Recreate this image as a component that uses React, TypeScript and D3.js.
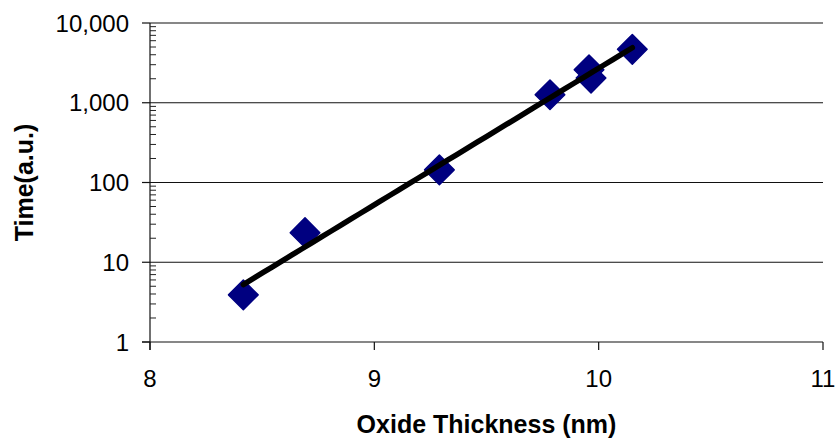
import React from "react";
import * as d3 from "d3";

// Measured samples: oxide thickness (nm) vs. time (a.u.)
const thickness = [8.416, 8.691, 9.29, 9.783, 9.957, 9.966, 10.15];
const timeValues = [3.9, 23.5, 144, 1260, 2590, 2040, 4680];

const xTicks = [8, 9, 10, 11];
const yTicks = [1, 10, 100, 1000, 10000];

const W = 840;
const H = 443;
const left = 150;
const right = 823;
const top = 23;
const bottom = 342;

const FONT = "Arial, 'Liberation Sans', Helvetica, sans-serif";

export default function App() {
  const x = d3.scaleLinear().domain([8, 11]).range([left, right]);
  const y = d3.scaleLog().domain([1, 10000]).range([bottom, top]);
  const fmt = d3.format(",");

  // Exponential trend line: least squares fit of log10(time) on thickness
  const logs = timeValues.map((v) => Math.log10(v));
  const mx = d3.mean(thickness) as number;
  const my = d3.mean(logs) as number;
  let sxy = 0;
  let sxx = 0;
  thickness.forEach((t, i) => {
    sxy += (t - mx) * (logs[i] - my);
    sxx += (t - mx) * (t - mx);
  });
  const slope = sxy / sxx;
  const intercept = my - slope * mx;
  const [x0, x1] = d3.extent(thickness) as [number, number];
  const trend = d3.range(0, 41).map((i) => {
    const t = x0 + ((x1 - x0) * i) / 40;
    return [t, Math.pow(10, intercept + slope * t)] as [number, number];
  });
  const trendPath = d3
    .line<[number, number]>()
    .x((d) => x(d[0]))
    .y((d) => y(d[1]))(trend) as string;

  // Minor ticks 2..9 within each decade
  const minor: number[] = [];
  for (let e = 0; e < 4; e++) {
    for (let m = 2; m <= 9; m++) minor.push(m * Math.pow(10, e));
  }

  const r = 14.8;
  const diamond = `M0,${-r}L${r},0L0,${r}L${-r},0Z`;

  return (
    <svg
      width={W}
      height={H}
      style={{ position: "absolute", left: 0, top: 0, background: "#fff" }}
      fontFamily={FONT}
    >
      {/* horizontal gridlines at each decade */}
      {yTicks.slice(1).map((v) => (
        <line
          key={"g" + v}
          x1={left}
          x2={right}
          y1={y(v)}
          y2={y(v)}
          stroke="#111"
          strokeWidth={1.2}
        />
      ))}
      {/* y axis */}
      <line x1={left} x2={left} y1={top} y2={bottom + 8} stroke="#111" strokeWidth={1.2} />
      {yTicks.map((v) => (
        <g key={"yt" + v}>
          <line x1={left - 8} x2={left} y1={y(v)} y2={y(v)} stroke="#111" strokeWidth={1.2} />
          <text
            x={129}
            y={y(v) + 8.5}
            textAnchor="end"
            fontSize={24}
            fill="#000"
          >
            {fmt(v)}
          </text>
        </g>
      ))}
      {minor.map((v) => (
        <line
          key={"m" + v}
          x1={left}
          x2={left + 6}
          y1={y(v)}
          y2={y(v)}
          stroke="#222"
          strokeWidth={1}
        />
      ))}
      {/* x axis */}
      <line x1={left - 8} x2={right} y1={bottom} y2={bottom} stroke="#111" strokeWidth={1.2} />
      {xTicks.map((v) => (
        <g key={"xt" + v}>
          <line x1={x(v)} x2={x(v)} y1={bottom} y2={bottom + 8} stroke="#111" strokeWidth={1.2} />
          <text x={x(v)} y={387} textAnchor="middle" fontSize={24} fill="#000">
            {v}
          </text>
        </g>
      ))}
      {/* data markers */}
      {thickness.map((t, i) => (
        <path
          key={"p" + i}
          d={diamond}
          transform={`translate(${x(t)},${y(timeValues[i])})`}
          fill="#000080"
          stroke="#000080"
          strokeWidth={1.5}
          strokeLinejoin="round"
        />
      ))}
      {/* trend line */}
      <path
        d={trendPath}
        fill="none"
        stroke="#000"
        strokeWidth={5.5}
        strokeLinecap="round"
      />
      {/* axis titles */}
      <text
        x={(left + right) / 2}
        y={433}
        textAnchor="middle"
        fontSize={25}
        fontWeight="bold"
        fill="#000"
      >
        Oxide Thickness (nm)
      </text>
      <text
        transform={`translate(${33},${(top + bottom) / 2}) rotate(-90)`}
        textAnchor="middle"
        fontSize={25}
        fontWeight="bold"
        fill="#000"
      >
        Time(a.u.)
      </text>
    </svg>
  );
}
